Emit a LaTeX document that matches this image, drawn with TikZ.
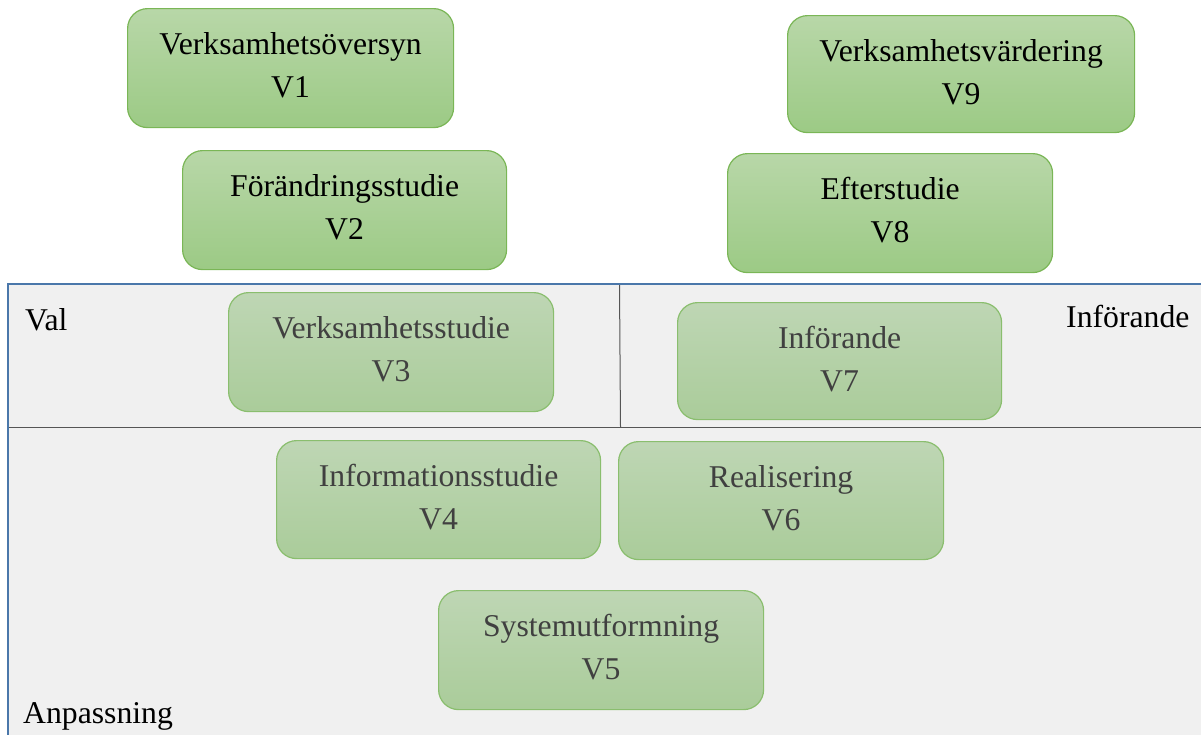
\documentclass[tikz,border=0pt]{standalone}
\usepackage{fontspec}
\setmainfont{Liberation Serif}
\definecolor{outerTop}{RGB}{184,215,168}
\definecolor{outerBot}{RGB}{156,202,133}
\definecolor{outerLine}{RGB}{122,182,86}
\definecolor{innerTop}{RGB}{190,214,180}
\definecolor{innerBot}{RGB}{170,204,154}
\definecolor{innerLine}{RGB}{138,190,110}
\definecolor{innerInk}{RGB}{64,64,64}
\definecolor{panelFill}{RGB}{240,240,240}
\definecolor{frameBlue}{RGB}{74,119,170}
\definecolor{dividerGray}{RGB}{85,85,85}
\tikzset{
  outerbox/.style={rectangle, rounded corners=20pt, draw=outerLine, line width=1.2pt,
    top color=outerTop, bottom color=outerBot, inner sep=0pt},
  innerbox/.style={rectangle, rounded corners=20pt, draw=innerLine, line width=1.2pt,
    top color=innerTop, bottom color=innerBot, inner sep=0pt},
  outerboxtext/.style={inner sep=0pt, text=black, font=\fontsize{31.7}{40}\selectfont},
  innerboxtext/.style={inner sep=0pt, text=innerInk, font=\fontsize{31.7}{40}\selectfont},
  lanelabel/.style={inner sep=0pt, anchor=base west, text=black, font=\fontsize{31.7}{40}\selectfont},
  frameline/.style={draw=frameBlue, line width=2pt},
  dividerline/.style={draw=dividerGray, line width=1pt}
}
% #1 name, #2 style, #3 x1, #4 y1, #5 x2, #6 y2, #7 first line, #8 second line
\newcommand{\phasebox}[8]{%
  \node[#2, anchor=north west, minimum width={#5-#3}, minimum height={#6-#4}] (#1) at (#3,#4) {};
  \node[#2text, anchor=base] (#1a) at ([yshift=-46.5pt]#1.north) {#7};
  \node[#2text, anchor=base] (#1b) at ([yshift=-89.5pt]#1.north) {#8};
}
\begin{document}
\begin{tikzpicture}[x=1pt, y=-1pt]
  \useasboundingbox (0,0) rectangle (1201,734);
  \clip (0,0) rectangle (1201,734);
  % swimlane panel
  \fill[panelFill] (7.5,284) rectangle (1230,760);
  \draw[frameline] (1230,284) -- (7.5,284) -- (7.5,760);
  \draw[dividerline] (8.5,427.5) -- (1230,427.5);
  \draw[dividerline] (619.5,285) -- (620.5,427);
  % lane labels
  \node[lanelabel] (val) at (25,330) {Val};
  \node[lanelabel] (inforande) at (1066,327) {Införande};
  \node[lanelabel] (anpassning) at (23,723) {Anpassning};
  % phases above the panel
  \phasebox{v1}{outerbox}{127}{8}{453}{127}{Verksamhetsöversyn}{V1}
  \phasebox{v9}{outerbox}{787}{15}{1134}{132}{Verksamhetsvärdering}{V9}
  \phasebox{v2}{outerbox}{182}{150}{506}{269}{Förändringsstudie}{V2}
  \phasebox{v8}{outerbox}{727}{153}{1052}{272}{Efterstudie}{V8}
  % phases inside the panel
  \phasebox{v3}{innerbox}{228}{292}{553}{411}{Verksamhetsstudie}{V3}
  \phasebox{v7}{innerbox}{677}{302}{1001}{419}{Införande}{V7}
  \phasebox{v4}{innerbox}{276}{440}{600}{558}{Informationsstudie}{V4}
  \phasebox{v6}{innerbox}{618}{441}{943}{559}{Realisering}{V6}
  \phasebox{v5}{innerbox}{438}{590}{763}{709}{Systemutformning}{V5}
\end{tikzpicture}
\end{document}
